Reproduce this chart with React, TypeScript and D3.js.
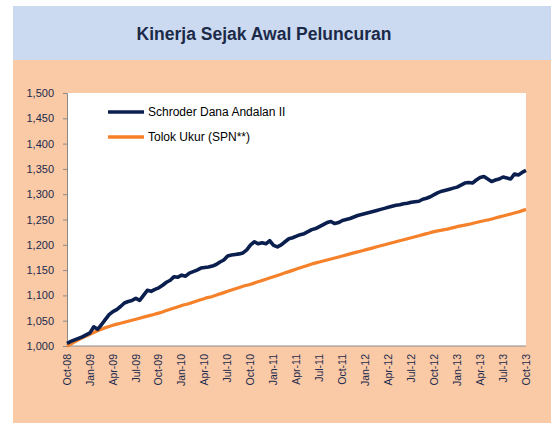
import React, { useRef, useEffect } from 'react';
import * as d3 from 'd3';

// quarterly category labels, Oct-08 .. Oct-13
const tickLabels: string[] = [
    'Oct-08', 'Jan-09', 'Apr-09', 'Jul-09', 'Oct-09', 'Jan-10', 'Apr-10', 'Jul-10', 'Oct-10',
    'Jan-11', 'Apr-11', 'Jul-11', 'Oct-11', 'Jan-12', 'Apr-12', 'Jul-12', 'Oct-12',
    'Jan-13', 'Apr-13', 'Jul-13', 'Oct-13',
];

const yTicks: number[] = [1000, 1050, 1100, 1150, 1200, 1250, 1300, 1350, 1400, 1450, 1500];

// Schroder Dana Andalan II, read twice a month (index / 2 = months since Oct-08)
const fundValues: number[] = [
    1005, 1009, 1012, 1015, 1018, 1022, 1026, 1038, 1033, 1042,
    1052, 1062, 1068, 1072, 1078, 1085, 1088, 1090, 1094, 1090,
    1100, 1110, 1108, 1112, 1115, 1120, 1126, 1130, 1137, 1136,
    1140, 1138, 1144, 1147, 1150, 1154, 1155, 1156, 1158, 1161,
    1166, 1170, 1178, 1180, 1181, 1182, 1184, 1190, 1200, 1206,
    1202, 1204, 1202, 1208, 1199, 1196, 1200, 1206, 1212, 1214,
    1217, 1220, 1222, 1226, 1230, 1232, 1236, 1240, 1244, 1246,
    1242, 1244, 1248, 1250, 1252, 1255, 1258, 1260, 1262, 1264,
    1266, 1268, 1270, 1272, 1274, 1276, 1278, 1279, 1281, 1282,
    1284, 1285, 1286, 1290, 1292, 1295, 1299, 1303, 1306, 1308,
    1310, 1312, 1314, 1318, 1322, 1323, 1322, 1328, 1333, 1335,
    1330, 1325, 1328, 1330, 1334, 1332, 1330, 1340, 1338, 1343,
    1347,
];

// Tolok Ukur (SPN**), monthly
const benchValues: number[] = [
    1000, 1008, 1016, 1023, 1030, 1036, 1041, 1045, 1049, 1053,
    1057, 1061, 1065, 1070, 1075, 1080, 1084, 1089, 1094, 1098,
    1103, 1108, 1113, 1118, 1122, 1127, 1132, 1137, 1142, 1147,
    1152, 1157, 1162, 1166, 1170, 1174, 1178, 1182, 1186, 1190,
    1194, 1198, 1202, 1206, 1210, 1214, 1218, 1222, 1226, 1229,
    1232, 1236, 1239, 1242, 1246, 1249, 1253, 1257, 1261, 1265,
    1270,
];

const seriesNames: string[] = ['Schroder Dana Andalan II', 'Tolok Ukur (SPN**)'];
const seriesColors: string[] = ['#0b1f4f', '#f5812a'];

const W = 557;
const H = 423;
const plot = { left: 67, right: 526, top: 93, bottom: 346 };
const labelColor = '#1c2b4d';
const font = 'Arial, "Liberation Sans", sans-serif';

const App: React.FC = () => {
    const ref = useRef<SVGSVGElement>(null);

    useEffect(() => {
        if (!ref.current) return;
        const svg = d3.select(ref.current);
        svg.selectAll('*').remove();

        // backgrounds
        svg.append('rect').attr('x', 13).attr('y', 6).attr('width', 538).attr('height', 54).attr('fill', '#ccdaf1');
        svg.append('rect').attr('x', 13).attr('y', 60).attr('width', 538).attr('height', H - 60).attr('fill', '#fac9a6');
        svg.append('rect')
            .attr('x', plot.left).attr('y', plot.top)
            .attr('width', plot.right - plot.left).attr('height', plot.bottom - plot.top)
            .attr('fill', '#ffffff');

        svg.append('text')
            .attr('x', 264).attr('y', 40)
            .attr('text-anchor', 'middle')
            .attr('font-family', font)
            .attr('font-size', 17.5).attr('font-weight', 'bold')
            .attr('fill', '#1b2a48')
            .text('Kinerja Sejak Awal Peluncuran');

        const x = d3.scaleLinear().domain([0, 60]).range([plot.left, plot.right]);
        const y = d3.scaleLinear().domain([1000, 1500]).range([plot.bottom, plot.top]);

        // y axis
        const yAxis = svg.append('g').attr('transform', `translate(${plot.left},0)`)
            .call(d3.axisLeft(y).tickValues(yTicks).tickSize(4).tickPadding(9).tickFormat(d3.format(',')));
        yAxis.select('.domain').attr('stroke', '#8a8a8a');
        yAxis.selectAll('.tick line').attr('stroke', '#8a8a8a');
        yAxis.selectAll('.tick text')
            .attr('font-family', font)
            .attr('font-size', 11).attr('fill', labelColor);

        // x axis
        svg.append('line')
            .attr('x1', plot.left).attr('x2', plot.right)
            .attr('y1', plot.bottom).attr('y2', plot.bottom)
            .attr('stroke', '#8a8a8a');
        svg.selectAll('.xlab')
            .data(tickLabels)
            .enter()
            .append('text')
            .classed('xlab', true)
            .attr('transform', (d, i) => `translate(${x(i * 3)},${plot.bottom + 8}) rotate(-90)`)
            .attr('dy', '0.35em')
            .attr('text-anchor', 'end')
            .attr('font-family', font)
            .attr('font-size', 10.5).attr('fill', labelColor)
            .text(d => d);

        // lines
        const fundLine = d3.line<number>().x((d, i) => x(i / 2)).y(d => y(d)).curve(d3.curveLinear);
        const benchLine = d3.line<number>().x((d, i) => x(i)).y(d => y(d)).curve(d3.curveMonotoneX);

        svg.append('path').datum(benchValues)
            .attr('d', benchLine).attr('fill', 'none')
            .attr('stroke', seriesColors[1]).attr('stroke-width', 3.2).attr('stroke-linejoin', 'round');
        svg.append('path').datum(fundValues)
            .attr('d', fundLine).attr('fill', 'none')
            .attr('stroke', seriesColors[0]).attr('stroke-width', 3.6).attr('stroke-linejoin', 'round');

        // legend
        const legend = svg.selectAll('.leg').data(seriesNames).enter().append('g')
            .classed('leg', true)
            .attr('transform', (d, i) => `translate(108,${112 + i * 25})`);
        legend.append('line')
            .attr('x1', 0).attr('x2', 36).attr('y1', 0).attr('y2', 0)
            .attr('stroke', (d, i) => seriesColors[i]).attr('stroke-width', 3.5);
        legend.append('text')
            .attr('x', 40).attr('dy', '0.35em')
            .attr('font-family', font)
            .attr('font-size', 12).attr('fill', '#000')
            .text(d => d);
    }, []);

    return <svg ref={ref} width={W} height={H} style={{ position: 'absolute', left: 0, top: 0 }}></svg>;
};

export default App;
